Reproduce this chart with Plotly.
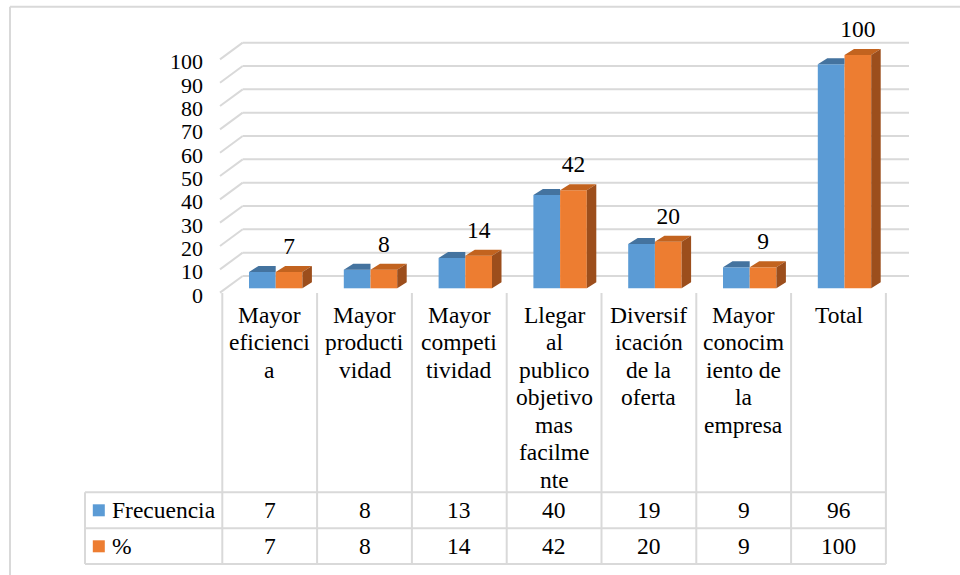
import plotly.graph_objects as go

# data
categories = [
    "Mayor<br>eficienci<br>a",
    "Mayor<br>producti<br>vidad",
    "Mayor<br>competi<br>tividad",
    "Llegar<br>al<br>publico<br>objetivo<br>mas<br>facilme<br>nte",
    "Diversif<br>icación<br>de la<br>oferta",
    "Mayor<br>conocim<br>iento de<br>la<br>empresa",
    "Total",
]
frecuencia = [7, 8, 13, 40, 19, 9, 96]
porcentaje = [7, 8, 14, 42, 20, 9, 100]
series_names = ["Frecuencia", "%"]
y_ticks = list(range(0, 101, 10))

# colours
BLUE, BLUE_TOP = "#5B9BD5", "#44739F"
ORANGE, ORANGE_TOP, ORANGE_SIDE = "#ED7D31", "#C2631F", "#9C4E1C"
GRID = "#D9D9D9"
FONT = "Times New Roman, Liberation Serif, DejaVu Serif, Noto Serif, serif"
FS = 23.5

# page geometry (screen pixels) -> axis units, the plot area covers the whole figure
W, H = 960, 575
COL0, COLW = 222.3, 94.8      # left edge and width of a category column
ZERO, UNIT = 295.0, 2.333     # pixel row of value 0 and pixels per unit


def X(px):
    return (px - COL0) / COLW


def Y(py):
    return (ZERO - py) / UNIT


BASE = Y(288.3)               # bottom of the bar fronts
BW = 26.7 / COLW              # bar width
B_OFF = 26.7 / COLW           # blue bar left edge inside its column
O_OFF = B_OFF + BW            # orange bar left edge
DX, DY = 9.5 / COLW, 6.0 / UNIT   # bar depth
FLOOR = 1.0                   # front edge of the floor, above value line
WALL_DX, WALL_DY = 22.7 / COLW, 16.7 / UNIT

fig = go.Figure()

# front faces
for vals, off, col, name in [
    (frecuencia, B_OFF, BLUE, series_names[0]),
    (porcentaje, O_OFF, ORANGE, series_names[1]),
]:
    fig.add_trace(go.Bar(
        x=[i + off + BW / 2 for i in range(len(vals))],
        y=vals, base=BASE, width=BW, name=name,
        marker=dict(color=col, line=dict(width=0)),
        hoverinfo="skip", showlegend=False,
    ))


def faces(vals, off, kind):
    xs, ys = [], []
    for i, v in enumerate(vals):
        l, r, t = i + off, i + off + BW, BASE + v
        if kind == "top":
            xs += [l, r, r + DX, l + DX, l, None]
            ys += [t, t, t + DY, t + DY, t, None]
        elif kind == "top_clip":
            xs += [l, r, r, l + DX, l, None]
            ys += [t, t, t + DY, t + DY, t, None]
        else:
            xs += [r, r, r + DX, r + DX, r, None]
            ys += [BASE, t, t + DY, BASE + DY, BASE, None]
    return xs, ys


for vals, off, kind, col in [
    (frecuencia, B_OFF, "top_clip", BLUE_TOP),
    (porcentaje, O_OFF, "top", ORANGE_TOP),
    (porcentaje, O_OFF, "side", ORANGE_SIDE),
]:
    xs, ys = faces(vals, off, kind)
    fig.add_trace(go.Scatter(
        x=xs, y=ys, mode="lines", fill="toself", fillcolor=col,
        line=dict(width=0, color=col), hoverinfo="skip", showlegend=False,
    ))

# data labels on the % series
fig.add_trace(go.Scatter(
    x=[i + O_OFF + BW / 2 for i in range(len(porcentaje))],
    y=[BASE + v + 24 / UNIT for v in porcentaje],
    mode="text", text=[str(v) for v in porcentaje],
    textposition="middle center",
    textfont=dict(family=FONT, size=FS, color="black"),
    hoverinfo="skip", showlegend=False,
))

# legend keys of the data table
row_mid = [Y(510.3), Y(546.3)]
fig.add_trace(go.Scatter(
    x=[X(98.8), X(98.8)], y=row_mid, mode="markers",
    marker=dict(symbol="square", size=12, color=[BLUE, ORANGE], line=dict(width=0)),
    hoverinfo="skip", showlegend=False,
))

shapes = []


def line(x0, y0, x1, y1, width=2):
    shapes.append(dict(type="line", xref="x", yref="y", x0=x0, y0=y0, x1=x1, y1=y1,
                       line=dict(color=GRID, width=width), layer="below"))


# back wall gridlines and floor/wall diagonals
for v in y_ticks:
    line(X(220), v + FLOOR, X(220) + WALL_DX, v + FLOOR + WALL_DY)
    line(X(220) + WALL_DX, v + FLOOR + WALL_DY, X(909), v + FLOOR + WALL_DY)

# data table grid
n = len(categories)
for py in [492.3, 528.3, 564.0]:
    line(X(85), Y(py), n, Y(py))
line(X(85), Y(492.3), X(85), Y(564.0))
for k in range(n + 1):
    line(k, Y(293), k, Y(564.0))

# chart area border (cropped on the right and bottom)
line(X(10), Y(6.7), X(W), Y(6.7))
line(X(10), Y(6.7), X(10), Y(H))

annotations = []
# category names, wrapped the way Excel wraps them inside the column
for i, c in enumerate(categories):
    for j, part in enumerate(c.split("<br>")):
        annotations.append(dict(
            x=i + 0.5, y=Y(314.5 + 27.5 * j), xref="x", yref="y", text=part,
            showarrow=False, xanchor="center", yanchor="middle",
            font=dict(family=FONT, size=FS, color="black"),
        ))
for row, (name, vals) in enumerate(zip(series_names, [frecuencia, porcentaje])):
    annotations.append(dict(
        x=X(110), y=row_mid[row], xref="x", yref="y", text=name, showarrow=False,
        xanchor="left", yanchor="middle", font=dict(family=FONT, size=FS, color="black"),
    ))
    for i, v in enumerate(vals):
        annotations.append(dict(
            x=i + 0.5, y=row_mid[row], xref="x", yref="y", text=str(v), showarrow=False,
            xanchor="center", yanchor="middle", font=dict(family=FONT, size=FS, color="black"),
        ))

fig.update_layout(
    width=W, height=H,
    margin=dict(l=0, r=0, t=0, b=0, autoexpand=False),
    paper_bgcolor="white", plot_bgcolor="white",
    barmode="overlay", showlegend=False,
    font=dict(family=FONT),
    shapes=shapes, annotations=annotations,
    xaxis=dict(range=[X(0), X(W)], visible=False, fixedrange=True),
    yaxis=dict(
        range=[Y(H), Y(0)], anchor="free", position=220 / W,
        tickmode="array", tickvals=y_ticks, ticks="",
        showgrid=False, zeroline=False, showline=False,
        ticklabelstandoff=17, fixedrange=True,
        tickfont=dict(family=FONT, size=22, color="black"),
    ),
)

# the page body has a default 8px margin; drop it so the figure fills the window
fig.write_html(
    "out.html",
    config={"displayModeBar": False},
    post_script="document.body.style.margin = '0';",
)
